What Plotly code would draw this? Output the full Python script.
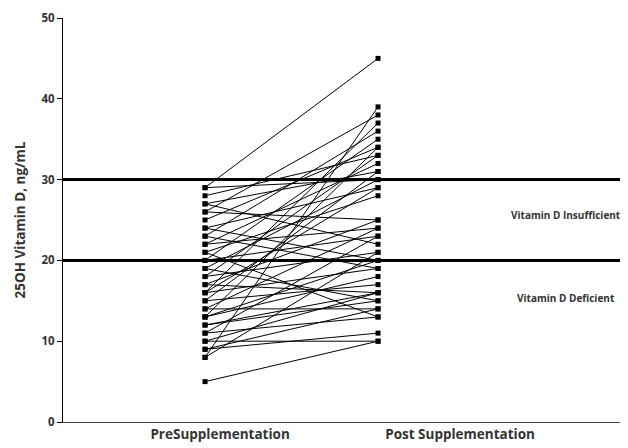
import plotly.graph_objects as go

categories = ["PreSupplementation", "Post Supplementation"]
pre_values = [29, 29, 28, 27, 26, 26, 25, 24, 24, 23, 22, 22, 21, 20, 20, 19, 18, 18,
              17, 17, 16, 16, 16, 15, 15, 14, 14, 13, 13, 13, 12, 12, 11, 11, 10, 10,
              9, 9, 8, 8, 5, 19, 21, 23, 27]
post_values = [45, 30, 33, 31, 25, 38, 34, 29, 20, 36, 24, 32, 28, 23, 35, 30, 21, 33,
               25, 16, 29, 19, 37, 31, 17, 24, 14, 20, 18, 34, 16, 15, 23, 13, 16, 10,
               14, 11, 39, 21, 10, 15, 13, 19, 22]
thresholds = [30, 20]
zone_labels = ["Vitamin D Insufficient", "Vitamin D Deficient"]
zone_label_y = [25.6, 15.3]
y_ticks = [0, 10, 20, 30, 40, 50]

x_pos = [1, 2]
fig = go.Figure()
for a, b in zip(pre_values, post_values):
    fig.add_trace(go.Scatter(
        x=x_pos, y=[a, b], mode="lines+markers",
        line=dict(color="black", width=1),
        marker=dict(symbol="square", size=5, color="black"),
        showlegend=False, hoverinfo="skip"))

for t in thresholds:
    fig.add_shape(type="line", xref="paper", x0=0, x1=1, yref="y", y0=t, y1=t,
                  line=dict(color="black", width=3))

for lab, yy in zip(zone_labels, zone_label_y):
    fig.add_annotation(x=0.89, y=yy, xref="paper", yref="y", text="<b>%s</b>" % lab,
                       showarrow=False, xanchor="center", yanchor="middle",
                       font=dict(family="Open Sans", size=10, color="#333333"))

fig.update_layout(
    width=620, height=440,
    margin=dict(l=55, r=0, t=10, b=26),
    plot_bgcolor="white", paper_bgcolor="white",
    font=dict(family="Open Sans", color="#333333"),
    xaxis=dict(range=[0.179, 3.445], showgrid=False, zeroline=False,
               showline=True, linecolor="#444444", linewidth=1,
               tickvals=[1.087, 2.474], ticktext=["<b>%s</b>" % c for c in categories],
               ticks="", tickfont=dict(size=13.5, color="#333333")),
    yaxis=dict(range=[0, 50], showgrid=False, zeroline=False,
               showline=True, linecolor="black", linewidth=1,
               tickvals=y_ticks, ticktext=["<b>%d</b>" % v for v in y_ticks],
               ticks="outside", ticklen=5, tickcolor="black",
               tickfont=dict(size=11.5, color="#333333"),
               title=dict(text="<b>25OH Vitamin D, ng/mL</b>", standoff=12,
                          font=dict(size=13.5, color="#333333"))),
)
fig.write_html("out.html")
